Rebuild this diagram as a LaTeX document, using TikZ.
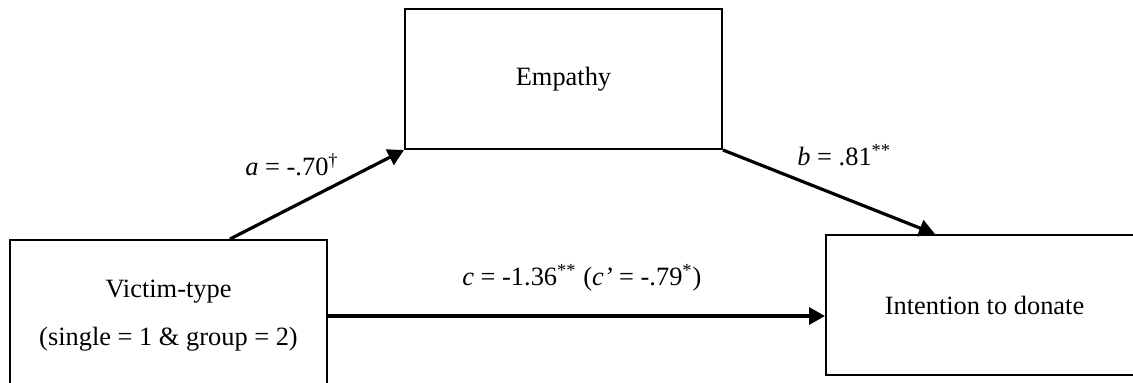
\documentclass[tikz,border=0pt]{standalone}
\usepackage{fontspec}
\setmainfont{Liberation Serif}
\usepackage{tikz}
\usetikzlibrary{arrows.meta}

\begin{document}
\begin{tikzpicture}[
    x=0.5pt, y=-0.5pt,
    font=\fontsize{13.2}{16}\selectfont,
    box/.style={rectangle, draw, line width=1pt, minimum width=158.5pt, minimum height=70pt, align=center},
    arrow/.style={-{Triangle[length=8pt,width=8.5pt]}, line width=1.6pt},
    coef/.style={inner sep=0pt, anchor=base west}
]
\path[use as bounding box] (0,0) rectangle (1133,382);
\clip (0,0) rectangle (1133,382);

\node[box] (emp) at (563.5,79) {Empathy};
\node[box, minimum height=76pt] (victim) at (168.5,316) {Victim-type\\[8pt](single = 1 \& group = 2)};
\node[box] (intent) at (984.5,305) {Intention to donate};

\draw[arrow] ([xshift=30.75pt]victim.north) -- (emp.south west);
\draw[arrow] (emp.south east) -- ([xshift=-24.75pt]intent.north);
\draw[arrow] (victim.east) -- (victim.east -| intent.west);

% path coefficients
\node[coef] (alab) at (245,175) {\textit{a} = -.70\textsuperscript{†}};
\node[coef] (blab) at (797,165) {\textit{b} = .81\textsuperscript{**}};
\node[coef] (clab) at (462,285) {\textit{c} = -1.36\textsuperscript{**} (\textit{c’} = -.79\textsuperscript{*})};
\end{tikzpicture}
\end{document}
